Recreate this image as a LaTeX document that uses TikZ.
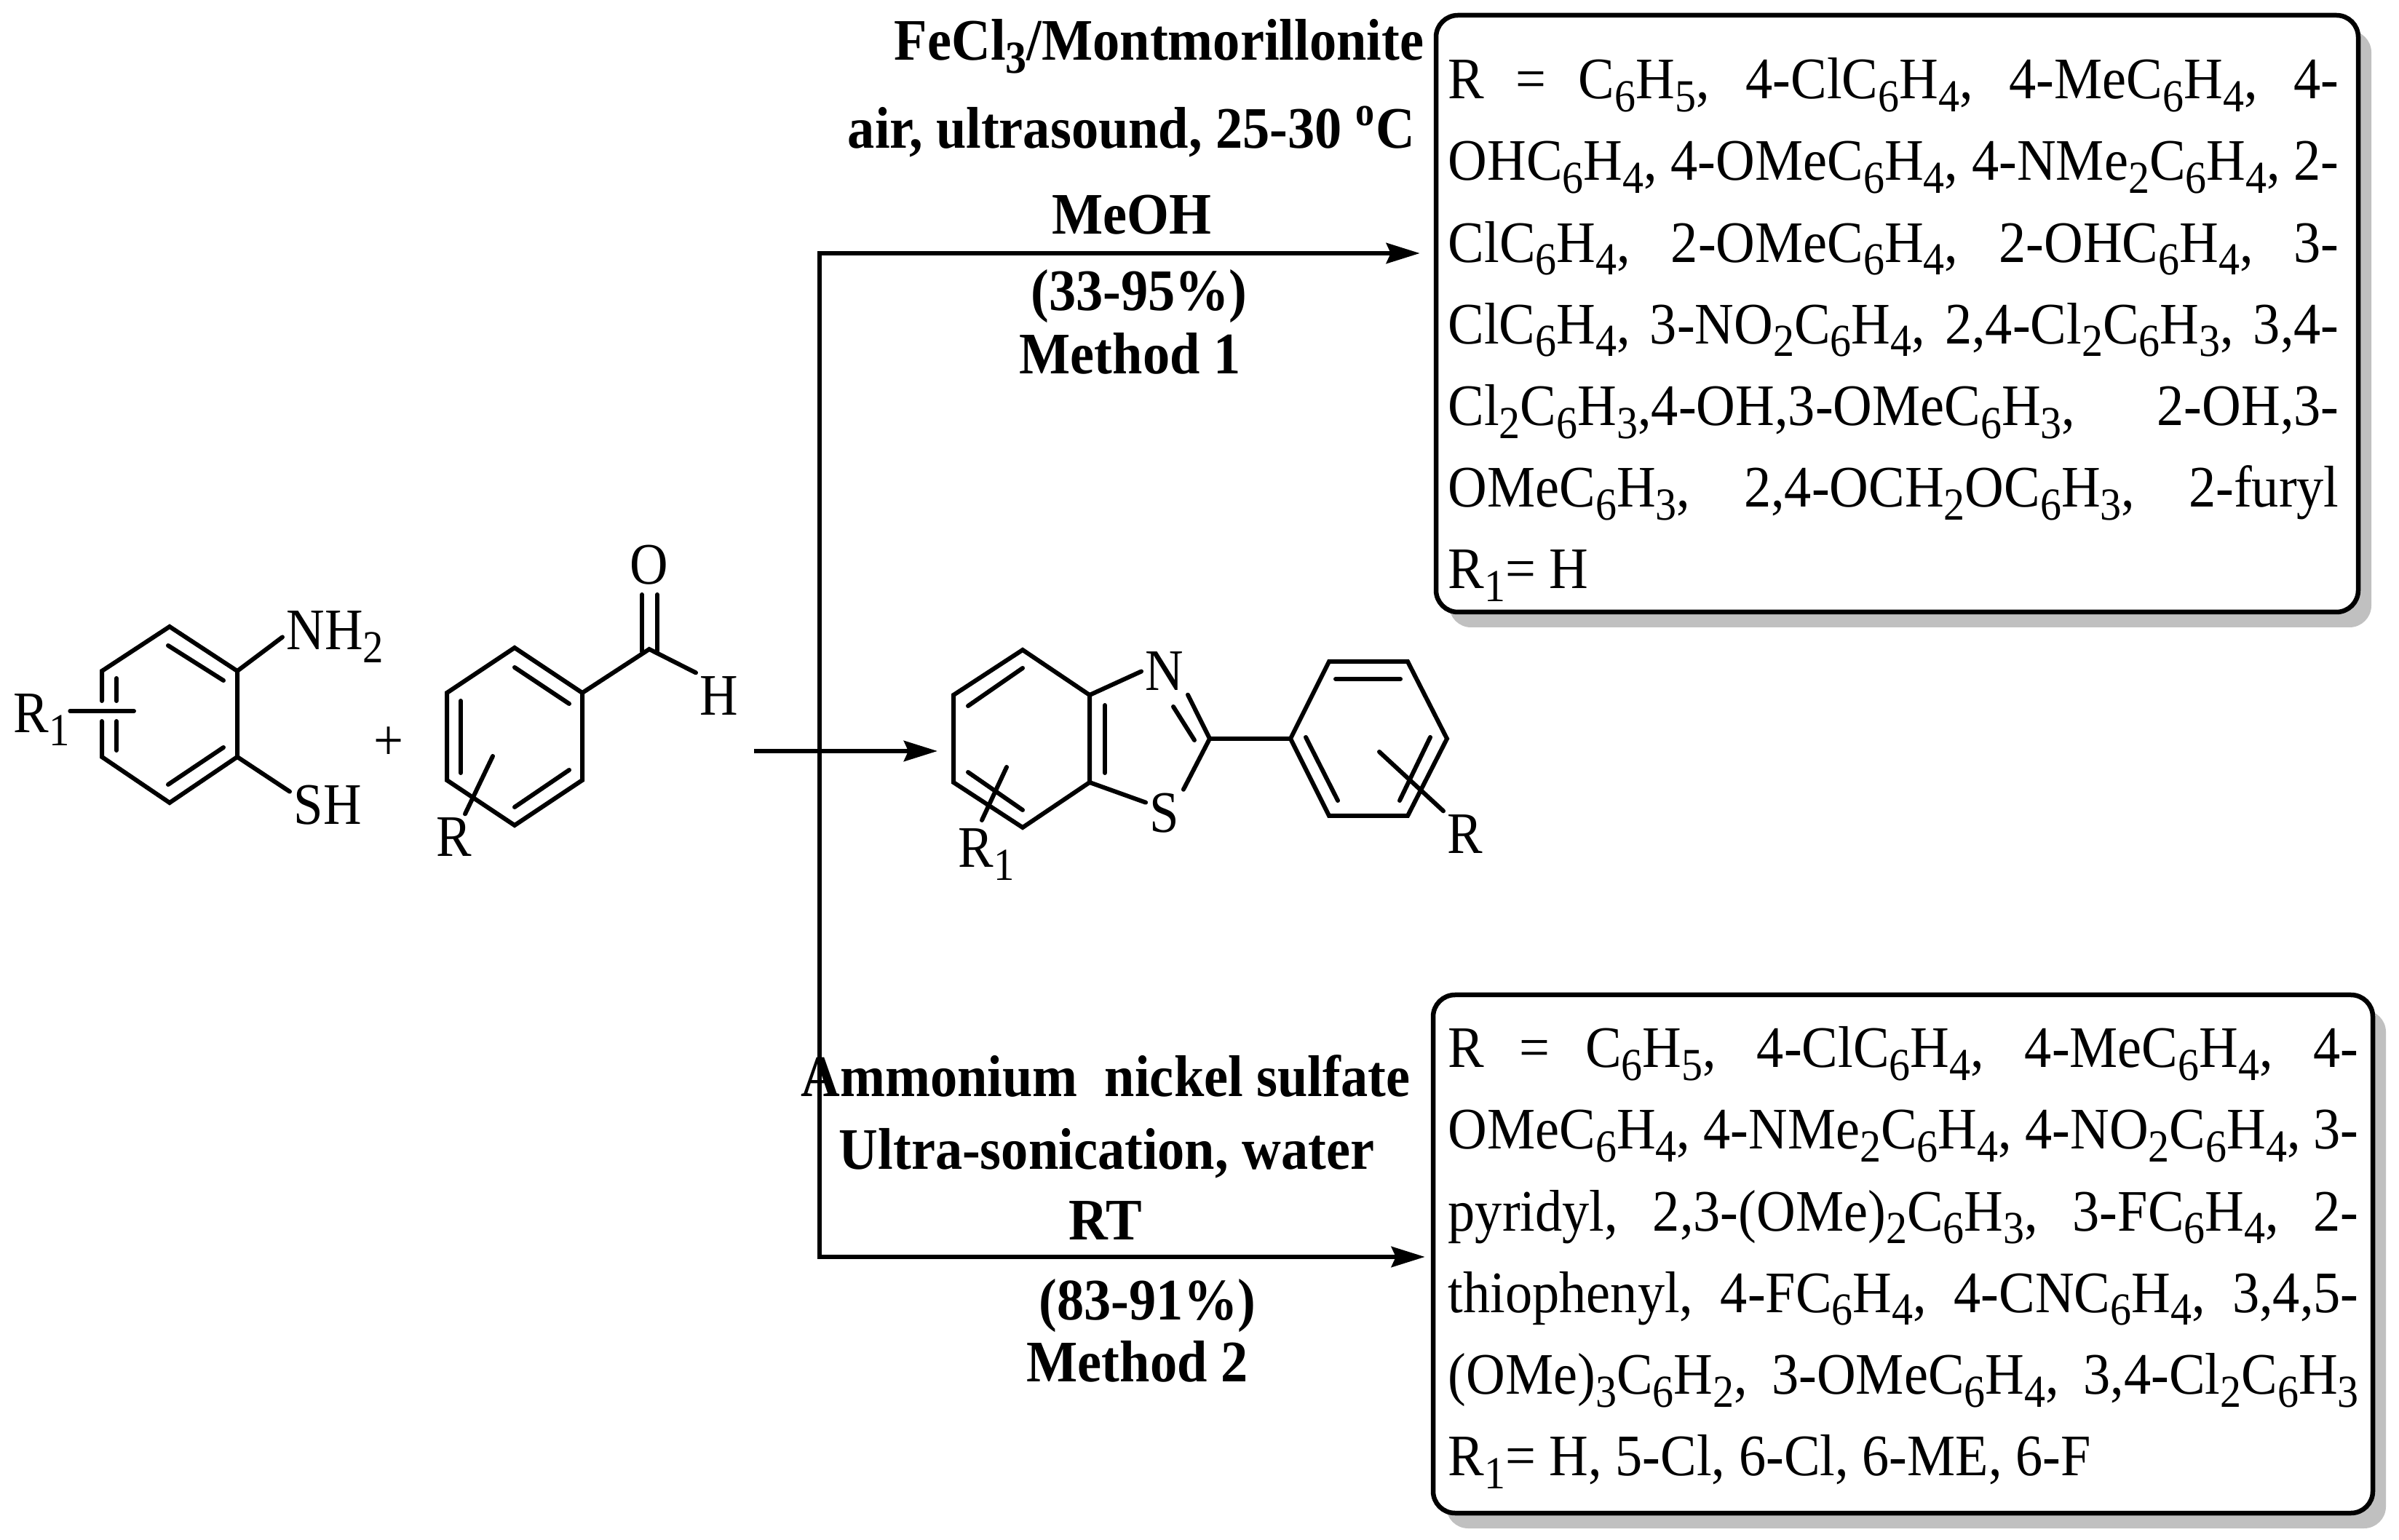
\documentclass[tikz,border=0pt]{standalone}
\usepackage{fontspec}
\setmainfont[FakeStretch=0.92]{Liberation Serif}
\newfontfamily\chemfont[FakeStretch=0.9]{Liberation Serif}
\usetikzlibrary{arrows.meta,positioning,shadows}
\definecolor{shadowgrey}{RGB}{192,192,192}
\newcommand{\subs}[1]{\raisebox{-.22em}{\scalebox{.78}{#1}}}
\tikzset{
  bond/.style={line width=.06cm,line cap=round},
  react/.style={line width=.065cm,-{Stealth[length=.46cm,width=.28cm,inset=.06cm]}},
  atom/.style={font=\fontsize{23}{23}\chemfont,inner sep=.05cm},
  cond/.style={font=\fontsize{23}{23}\selectfont\bfseries,inner sep=0pt,anchor=base},
  roundbox/.style={draw,line width=.065cm,rounded corners=.3cm,fill=white,inner sep=0pt,
    drop shadow={shadow xshift=.18cm,shadow yshift=-.21cm,fill=shadowgrey,opacity=1}},
  boxtext/.style={font=\fontsize{23}{31.9}\selectfont,inner sep=0pt,anchor=north west,align=justify}
}
\begin{document}
\begin{tikzpicture}
\useasboundingbox (0,0) rectangle (32.96,21.15);
\coordinate (Aa) at (2.33,12.54);
\coordinate (Ab) at (3.26,11.93);
\coordinate (Ac) at (3.26,10.75);
\coordinate (Ad) at (2.33,10.12);
\coordinate (Ae) at (1.40,10.75);
\coordinate (Af) at (1.40,11.93);
\coordinate (Ag) at (1.40,11.52);
\coordinate (Ah) at (1.40,11.24);
\draw[bond] (Ag)--(Af)--(Aa)--(Ab)--(Ac)--(Ad)--(Ae)--(Ah);
\foreach \p/\q in {{2.31,12.28}/{3.07,11.80},{3.07,10.88}/{2.31,10.37},{1.60,11.83}/{1.60,11.52},{1.60,11.24}/{1.60,10.84}}
  \draw[bond] (\p)--(\q);
\node[atom,anchor=base west,inner sep=0pt] (Rone) at (.18,11.08) {R\subs{1}};
\node[atom,anchor=base west] (NH) at (3.88,12.22) {NH\subs{2}};
\node[atom,anchor=base west] (SH) at (3.98,9.82) {SH};
\draw[bond] (Ab)--(NH.west);
\draw[bond] (Ac)--(SH.160);
\coordinate (Ri) at (1.84,11.38);
\draw[bond] (Rone.east|-Ri)--(Ri);
\node[atom] (plus) at (5.34,10.93) {+};
\coordinate (Ba) at (7.07,12.25);
\coordinate (Bb) at (8.00,11.63);
\coordinate (Bc) at (8.00,10.43);
\coordinate (Bd) at (7.07,9.81);
\coordinate (Be) at (6.14,10.43);
\coordinate (Bf) at (6.14,11.63);
\draw[bond] (Ba)--(Bb)--(Bc)--(Bd)--(Be)--(Bf)--cycle;
\foreach \p/\q in {{7.07,11.98}/{7.82,11.48},{7.82,10.57}/{7.07,10.06},{6.33,11.52}/{6.33,10.53}}
  \draw[bond] (\p)--(\q);
\coordinate (Cho) at (8.92,12.23);
\node[atom,anchor=base] (Oo) at (8.92,13.12) {O};
\node[atom,anchor=base west] (Hh) at (9.56,11.32) {H};
\node[atom,anchor=base] (Rb) at (6.24,9.38) {R};
\coordinate (Rs) at (6.77,10.76);
\draw[bond] (Bb)--(Cho)--(Hh.north west);
\draw[bond] (8.82,12.98)--(8.82,12.20);
\draw[bond] (9.03,12.98)--(9.03,12.20);
\draw[bond] (Rs)--(Rb.65);
\coordinate (Ma) at (10.36,10.83);
\coordinate (Mb) at (12.88,10.83);
\draw[react] (Ma)--(Mb);
\coordinate (Ca) at (14.05,12.22);
\coordinate (Cb) at (14.97,11.60);
\coordinate (Cc) at (14.97,10.40);
\coordinate (Cd) at (14.05,9.78);
\coordinate (Ce) at (13.10,10.40);
\coordinate (Cf) at (13.10,11.60);
\draw[bond] (Ca)--(Cb)--(Cc)--(Cd)--(Ce)--(Cf)--cycle;
\foreach \p/\q in {{14.05,11.97}/{13.30,11.45},{13.30,10.54}/{14.05,10.02},{15.18,11.46}/{15.18,10.53}}
  \draw[bond] (\p)--(\q);
\node[atom,anchor=base] (Nn) at (16.00,11.66) {N};
\node[atom,anchor=base] (Ss) at (16.00,9.71) {S};
\coordinate (Ct) at (16.62,11.00);
\draw[bond] (Cb)--(Nn.west);
\draw[bond] (Cc)--(Ss.150);
\draw[bond] (Ct)--(Nn.south east);
\draw[bond] (Ct)--(Ss.north east);
\draw[bond] (16.12,11.44)--(16.41,10.98);
\coordinate (Da) at (17.73,11.00);
\coordinate (Db) at (18.26,12.06);
\coordinate (Dc) at (19.34,12.06);
\coordinate (Dd) at (19.88,11.00);
\coordinate (De) at (19.34,9.94);
\coordinate (Df) at (18.26,9.94);
\draw[bond] (Da)--(Db)--(Dc)--(Dd)--(De)--(Df)--cycle;
\draw[bond] (Ct)--(Da);
\foreach \p/\q in {{18.35,11.82}/{19.24,11.82},{17.94,11.02}/{18.38,10.15},{19.65,11.02}/{19.23,10.15}}
  \draw[bond] (\p)--(\q);
\node[atom,anchor=base] (Rc) at (20.13,9.42) {R};
\coordinate (Rd) at (18.95,10.82);
\draw[bond] (Rd)--(Rc.north west);
\node[atom,anchor=base west,inner sep=0pt] (Re) at (13.16,9.23) {R\subs{1}};
\coordinate (Rf) at (13.83,10.61);
\draw[bond] (Rf)--(13.49,9.88);
\node[roundbox,minimum width=12.67cm,minimum height=8.20cm] (boxa) at (26.065,16.84) {};
\node[roundbox,minimum width=12.91cm,minimum height=7.12cm] (boxb) at (26.145,3.92) {};
\coordinate (Ja) at (11.26,17.67);
\coordinate (Jb) at (11.26,3.88);
\draw[bond,line cap=rect] (Ja)--(Jb);
\draw[react,shorten >=.19cm] (Ja)--(boxa.west|-Ja);
\draw[react,shorten >=.08cm] (Jb)--(boxb.west|-Jb);
\node[cond] (Fe) at (15.925,20.32) {FeCl\subs{3}/Montmorillonite};
\node[cond] (air) at (15.545,19.11) {air, ultrasound, 25-30 \textsuperscript{o}C};
\node[cond] (MeOH) at (15.55,17.93) {MeOH};
\node[cond] (yielda) at (15.65,16.88) {(33-95\%)};
\node[cond] (Ma1) at (15.525,16.01) {Method 1};
\node[cond] (Am) at (15.19,6.08) {Ammonium\ \ nickel sulfate};
\node[cond] (Ul) at (15.205,5.09) {Ultra-sonication, water};
\node[cond] (RT) at (15.185,4.12) {RT};
\node[cond] (yieldb) at (15.765,3.02) {(83-91\%)};
\node[cond] (Mb2) at (15.625,2.17) {Method 2};
\node[boxtext,text width=12.24cm] (texta) at (19.89,20.36) {\exhyphenpenalty=10000
R = C\subs{6}H\subs{5}, 4-ClC\subs{6}H\subs{4}, 4-MeC\subs{6}H\subs{4}, 4-\linebreak
OHC\subs{6}H\subs{4}, 4-OMeC\subs{6}H\subs{4}, 4-NMe\subs{2}C\subs{6}H\subs{4}, 2-\linebreak
ClC\subs{6}H\subs{4}, 2-OMeC\subs{6}H\subs{4}, 2-OHC\subs{6}H\subs{4}, 3-\linebreak
ClC\subs{6}H\subs{4}, 3-NO\subs{2}C\subs{6}H\subs{4}, 2,4-Cl\subs{2}C\subs{6}H\subs{3}, 3,4-\linebreak
Cl\subs{2}C\subs{6}H\subs{3},4-OH,3-OMeC\subs{6}H\subs{3}, 2-OH,3-\linebreak
OMeC\subs{6}H\subs{3}, 2,4-OCH\subs{2}OC\subs{6}H\subs{3}, 2-furyl\linebreak
R\subs{1}= H};
\node[boxtext,text width=12.51cm] (textb) at (19.89,7.05) {\exhyphenpenalty=10000
R = C\subs{6}H\subs{5}, 4-ClC\subs{6}H\subs{4}, 4-MeC\subs{6}H\subs{4}, 4-\linebreak
OMeC\subs{6}H\subs{4}, 4-NMe\subs{2}C\subs{6}H\subs{4}, 4-NO\subs{2}C\subs{6}H\subs{4}, 3-\linebreak
pyridyl, 2,3-(OMe)\subs{2}C\subs{6}H\subs{3}, 3-FC\subs{6}H\subs{4}, 2-\linebreak
thiophenyl, 4-FC\subs{6}H\subs{4}, 4-CNC\subs{6}H\subs{4}, 3,4,5-\linebreak
(OMe)\subs{3}C\subs{6}H\subs{2}, 3-OMeC\subs{6}H\subs{4}, 3,4-Cl\subs{2}C\subs{6}H\subs{3}\linebreak
R\subs{1}= H, 5-Cl, 6-Cl, 6-ME, 6-F};
\end{tikzpicture}
\end{document}
